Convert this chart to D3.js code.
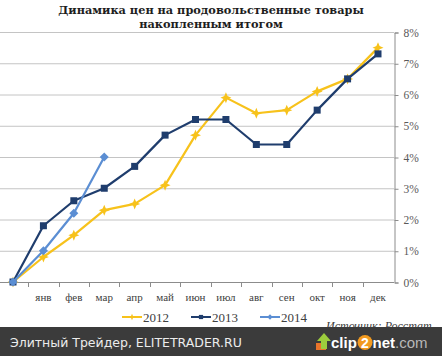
<!DOCTYPE html>
<html>
<head>
<meta charset="utf-8">
<script src="https://cdn.jsdelivr.net/npm/d3@7"></script>
<style>
  body { margin: 0; background: #fff; }
  svg { display: block; }
</style>
</head>
<body>
<svg id="chart" width="442" height="356"></svg>
<script>
const months = ['', 'янв', 'фев', 'мар', 'апр', 'май', 'июн', 'июл', 'авг', 'сен', 'окт', 'ноя', 'дек']
const values2012 = [0, 0.8, 1.5, 2.3, 2.5, 3.1, 4.7, 5.9, 5.4, 5.5, 6.1, 6.5, 7.5]
const values2013 = [0, 1.8, 2.6, 3.0, 3.7, 4.7, 5.2, 5.2, 4.4, 4.4, 5.5, 6.5, 7.3]
const values2014 = [0, 1.0, 2.2, 4.0]
const yTicks = [0, 1, 2, 3, 4, 5, 6, 7, 8]
const titleLines = ['Динамика цен на продовольственные товары', 'накопленным итогом']

const series = [
  { name: '2012', values: values2012, color: '#f7c21b', marker: 'star' },
  { name: '2013', values: values2013, color: '#1f3d6d', marker: 'square' },
  { name: '2014', values: values2014, color: '#5b8ed3', marker: 'diamond' }
]

const svg = d3.select('#chart')

// scales
const x = d3.scalePoint().domain(months.map((m, i) => i)).range([13, 378])
const step = x.step()
const y = d3.scaleLinear().domain([0, 8]).range([282, 32])

// title
svg.append('g')
  .selectAll('text')
  .data(titleLines)
  .join('text')
  .attr('x', 211)
  .attr('y', (d, i) => 14 + i * 14)
  .attr('text-anchor', 'middle')
  .style('font-family', '"DejaVu Serif", serif')
  .style('font-weight', 'bold')
  .style('font-size', '11.3px')
  .style('fill', '#1e1e1e')
  .text(d => d)

// grid
svg.append('g')
  .selectAll('line')
  .data(yTicks)
  .join('line')
  .attr('x1', 0)
  .attr('x2', 394)
  .attr('y1', d => y(d) + 0.5)
  .attr('y2', d => y(d) + 0.5)
  .attr('stroke', d => d === 0 ? '#8c8c8c' : '#c4c4c4')
  .attr('stroke-width', 1)

// right axis
svg.append('g')
  .attr('transform', 'translate(394.5,0.5)')
  .call(d3.axisRight(y).tickValues(yTicks).tickFormat(d => d + '%').tickSize(4).tickPadding(5))
  .call(g => g.select('.domain').attr('stroke', '#8c8c8c'))
  .call(g => g.selectAll('.tick line').attr('stroke', '#8c8c8c'))
  .call(g => g.selectAll('text')
    .style('font-family', '"Liberation Serif", serif')
    .style('font-size', '11.5px')
    .style('fill', '#595959'))

// bottom ticks between categories
const bottom = svg.append('g')
bottom.selectAll('line')
  .data(d3.range(1, months.length))
  .join('line')
  .attr('x1', d => Math.round(x(d) - step / 2) + 0.5)
  .attr('x2', d => Math.round(x(d) - step / 2) + 0.5)
  .attr('y1', 282)
  .attr('y2', 287)
  .attr('stroke', '#8c8c8c')

bottom.selectAll('text')
  .data(months)
  .join('text')
  .attr('x', (d, i) => x(i))
  .attr('y', 300.5)
  .attr('text-anchor', 'middle')
  .style('font-family', '"Liberation Serif", serif')
  .style('font-size', '11px')
  .style('fill', '#404040')
  .text(d => d)

// markers
const starPath = 'M0,-5.5 L1.6,-1.6 L5.5,0 L1.6,1.6 L0,5.5 L-1.6,1.6 L-5.5,0 L-1.6,-1.6 Z'
function drawMarker(sel, type, color) {
  if (type === 'square') {
    sel.append('rect').attr('x', -3.5).attr('y', -3.5).attr('width', 7).attr('height', 7).attr('fill', color)
  } else if (type === 'diamond') {
    sel.append('path').attr('d', 'M0,-4.5 L4.5,0 L0,4.5 L-4.5,0 Z').attr('fill', color)
  } else {
    sel.append('path').attr('d', starPath).attr('fill', color)
  }
}

const line = d3.line()
  .x((d, i) => x(i))
  .y(d => y(d))

series.forEach(s => {
  const g = svg.append('g')
  g.append('path')
    .datum(s.values)
    .attr('fill', 'none')
    .attr('stroke', s.color)
    .attr('stroke-width', 2.2)
    .attr('stroke-linejoin', 'round')
    .attr('d', line)
  g.selectAll('g')
    .data(s.values)
    .join('g')
    .attr('transform', (d, i) => `translate(${x(i)},${y(d)})`)
    .each(function () { drawMarker(d3.select(this), s.marker, s.color) })
})

// legend
const legend = svg.append('g')
  .selectAll('g')
  .data(series)
  .join('g')
  .attr('transform', (d, i) => `translate(${122 + i * 69},317)`)
legend.append('line')
  .attr('x1', 0).attr('x2', 20)
  .attr('stroke', d => d.color)
  .attr('stroke-width', 2)
legend.each(function (d) {
  const m = d3.select(this).append('g').attr('transform', 'translate(10,0) scale(0.6)')
  drawMarker(m, d.marker, d.color)
})
legend.append('text')
  .attr('x', 21)
  .attr('y', 4.5)
  .style('font-family', '"Liberation Serif", serif')
  .style('font-size', '13px')
  .style('fill', '#404040')
  .text(d => d.name)

// source note
svg.append('text')
  .attr('x', 326)
  .attr('y', 330)
  .style('font-family', '"Liberation Serif", serif')
  .style('font-style', 'italic')
  .style('font-size', '12px')
  .style('fill', '#404040')
  .text('Источник: Росстат')

// footer bar
svg.append('rect')
  .attr('x', 0).attr('y', 327)
  .attr('width', 442).attr('height', 29)
  .attr('fill', '#3b3b3b')

svg.append('text')
  .attr('x', 10)
  .attr('y', 347)
  .style('font-family', '"DejaVu Sans", sans-serif')
  .style('font-size', '12.5px')
  .style('fill', '#ececec')
  .text('Элитный Трейдер, ELITETRADER.RU')

// clip2net logo
const logo = svg.append('g').attr('transform', 'translate(316,333)')
logo.append('rect').attr('x', 0).attr('y', 10).attr('width', 10).attr('height', 7).attr('fill', '#e8742a')
logo.append('path').attr('d', 'M8,0 L15,8 L11,8 L11,16 L5,16 L5,8 L1,8 Z').attr('fill', '#9ccc3d')
logo.append('text')
  .attr('x', 15)
  .attr('y', 15)
  .style('font-family', '"Liberation Sans", Arial, sans-serif')
  .style('font-weight', 'bold')
  .style('font-size', '15px')
  .style('fill', '#ffffff')
  .text('clip')
logo.append('circle').attr('cx', 49).attr('cy', 9.5).attr('r', 7.5).attr('fill', '#f29a1f')
logo.append('text')
  .attr('x', 49)
  .attr('y', 14.5)
  .attr('text-anchor', 'middle')
  .style('font-family', '"Liberation Sans", Arial, sans-serif')
  .style('font-weight', 'bold')
  .style('font-size', '14px')
  .style('fill', '#ffffff')
  .text('2')
const logoText2 = logo.append('text')
  .attr('x', 56.5)
  .attr('y', 15)
  .style('font-family', '"Liberation Sans", Arial, sans-serif')
  .style('font-size', '15px')
logoText2.append('tspan').attr('fill', '#ffffff').style('font-weight', 'bold').text('net')
logoText2.append('tspan').attr('fill', '#b8b8b8').text('.com')
</script>
</body>
</html>
